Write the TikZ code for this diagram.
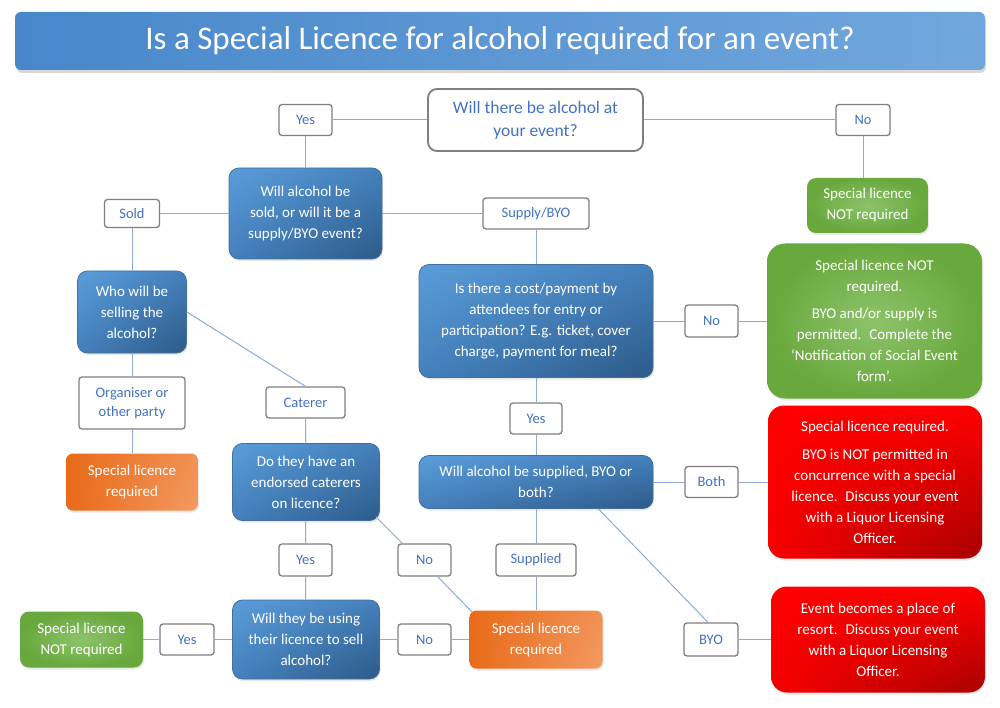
\documentclass[tikz,border=0pt]{standalone}
\usepackage{fontspec}
\setmainfont{Carlito}
\usetikzlibrary{shadings,shadows}
\usepackage{xcolor}
\definecolor{headblue}{HTML}{4787CB}
\definecolor{headbluel}{HTML}{72A7DD}
\definecolor{qbluea}{HTML}{5A9DDA}
\definecolor{qbluem}{HTML}{4480BC}
\definecolor{qblueb}{HTML}{2D5A88}
\definecolor{qedge}{HTML}{41719C}
\definecolor{labtext}{HTML}{4472C4}
\definecolor{labedge}{HTML}{7F7F7F}
\definecolor{wire}{HTML}{8EAADB}
\definecolor{okgreen}{HTML}{68A83C}
\definecolor{okgreenl}{HTML}{8DC36B}
\definecolor{reqorange}{HTML}{E96B19}
\definecolor{reqorangel}{HTML}{F39A62}
\definecolor{stopred}{HTML}{FF0000}
\definecolor{stopredb}{HTML}{A80000}

\tikzset{
	boxfont/.style={font=\fontsize{15}{21}\selectfont},
	question/.style={boxfont, rounded corners=10pt, draw=qedge, line width=0.8pt, upper left=qbluea, upper right=qbluem, lower left=qbluem, lower right=qblueb, text=white, align=center, inner sep=0pt, drop shadow={opacity=0.18, shadow xshift=1pt, shadow yshift=-2pt}},
	notreq/.style={boxfont, rounded corners=9pt, inner color=okgreenl, outer color=okgreen, text=white, align=center, inner sep=0pt, drop shadow={opacity=0.18, shadow xshift=1pt, shadow yshift=-2pt}},
	req/.style={boxfont, rounded corners=7pt, upper left=reqorange, lower left=reqorange, upper right=reqorangel!80!reqorange, lower right=reqorangel, text=white, align=center, inner sep=0pt, drop shadow={opacity=0.18, shadow xshift=1pt, shadow yshift=-2pt}},
	stop/.style={boxfont, rounded corners=16pt, upper left=stopred, upper right=stopred, lower left=stopred!90!stopredb, lower right=stopredb, text=white, align=center, inner sep=0pt, drop shadow={opacity=0.18, shadow xshift=1pt, shadow yshift=-2pt}},
	answer/.style={font=\fontsize{14.5}{18.5}\selectfont, rounded corners=3pt, draw=labedge, line width=1.3pt, fill=white, text=labtext, align=center, inner sep=0pt, minimum height=31pt},
	wire/.style={draw=wire, line width=1pt}
}

\begin{document}
\begin{tikzpicture}[x=1pt,y=-1pt]
	\useasboundingbox[fill=white] (0,0) rectangle (1000,708);
	% heading
	\node[rounded corners=6pt, left color=headblue, right color=headbluel, text=white, minimum width=970pt, minimum height=58pt, inner sep=0pt, font=\fontsize{33}{38}\selectfont, drop shadow={opacity=0.3, shadow xshift=1pt, shadow yshift=-3pt}] (head) at (500,41) {Is a Special Licence for alcohol required for an event?};
	%
	\node[rounded corners=9pt, draw=labedge, line width=1.8pt, fill=white, text=labtext, align=center, inner sep=0pt, minimum width=215pt, minimum height=62pt, font=\fontsize{17.5}{23}\selectfont] (alcohol) at (535.5,120) {Will there be alcohol at\\your event?};
	\node[answer, minimum width=53pt] (yesa) at (305.5,120) {Yes};
	\node[answer, minimum width=54pt] (noa) at (863,120) {No};
	\node[notreq, minimum width=121pt, minimum height=55pt] (notreqa) at (867.5,205.5) {Special licence\\NOT required};
	%
	\node[question, minimum width=153pt, minimum height=91pt] (soldq) at (305.5,213.5) {Will alcohol be\\sold, or will it be a\\supply/BYO event?};
	\node[answer, minimum width=55pt, minimum height=28pt] (sold) at (132,213.5) {Sold};
	\node[answer, minimum width=106pt] (supply) at (536,213.5) {Supply/BYO};
	%
	\node[question, minimum width=109pt, minimum height=82pt] (whoq) at (132,312) {Who will be\\selling the\\alcohol?};
	\node[answer, minimum width=106pt, minimum height=52pt] (organiser) at (132,403) {Organiser or\\other party};
	\node[req, minimum width=132pt, minimum height=57pt] (reqa) at (132,482) {Special licence\\required};
	\node[answer, minimum width=79pt] (caterer) at (305.5,402.5) {Caterer};
	\node[question, minimum width=147pt, minimum height=77pt] (endorsedq) at (306,482) {Do they have an\\endorsed caterers\\on licence?};
	\node[answer, minimum width=53pt, minimum height=32pt] (yesb) at (305.5,560) {Yes};
	\node[answer, minimum width=53pt, minimum height=32pt] (nob) at (424.5,560) {No};
	\node[question, minimum width=147pt, minimum height=79pt] (usingq) at (306,639.5) {Will they be using\\their licence to sell\\alcohol?};
	\node[answer, minimum width=53pt] (noc) at (424.5,639.5) {No};
	\node[answer, minimum width=54pt] (yesc) at (187,639.5) {Yes};
	\node[notreq, minimum width=123pt, minimum height=56pt] (notreqb) at (81.5,639.5) {Special licence\\NOT required};
	\node[req, minimum width=133pt, minimum height=58pt] (reqb) at (536,639.5) {Special licence\\required};
	%
	\node[question, minimum width=234pt, minimum height=113pt] (costq) at (536,321) {Is there a cost/payment by\\attendees for entry or\\participation? E.g. ticket, cover\\charge, payment for meal?};
	\node[answer, minimum width=53pt, minimum height=32pt] (nod) at (711.5,321) {No};
	\node[notreq, rounded corners=18pt, minimum width=215pt, minimum height=155pt] (permitted) at (874.5,321) {Special licence NOT\\required.\\[6pt]BYO and/or supply is\\permitted.~ Complete the\\‘Notification of Social Event\\form’.};
	\node[answer, minimum width=52pt] (yesd) at (536,418.5) {Yes};
	\node[question, minimum width=234pt, minimum height=53pt] (kindq) at (536,482) {Will alcohol be supplied, BYO or\\both?};
	\node[answer, minimum width=53pt] (both) at (711.5,482) {Both};
	\node[stop, minimum width=214pt, minimum height=153pt] (notpermitted) at (875,482) {Special licence required.\\[7pt]BYO is NOT permitted in\\concurrence with a special\\licence.~ Discuss your event\\with a Liquor Licensing\\Officer.};
	\node[answer, minimum width=80pt, minimum height=32pt] (supplied) at (536,560) {Supplied};
	\node[answer, minimum width=54pt, minimum height=33pt] (byo) at (711,639.5) {BYO};
	\node[stop, minimum width=214pt, minimum height=106pt] (resort) at (878,639.5) {Event becomes a place of\\resort.~ Discuss your event\\with a Liquor Licensing\\Officer.};
	%
	\draw[wire] (alcohol) -- (yesa);
	\draw[wire] (alcohol) -- (noa);
	\draw[wire] (yesa) -- (soldq);
	\draw[wire] (noa) -- (noa |- notreqa.north);
	\draw[wire] (soldq) -- (sold);
	\draw[wire] (soldq) -- (supply);
	\draw[wire] (sold) -- (whoq);
	\draw[wire] (whoq) -- (organiser);
	\draw[wire] (organiser) -- (reqa);
	\draw[wire] (whoq.east) -- (caterer.north);
	\draw[wire] (caterer) -- (endorsedq);
	\draw[wire] (endorsedq) -- (yesb);
	\draw[wire] (yesb) -- (usingq);
	\draw[wire] ([xshift=-4pt,yshift=4pt]endorsedq.south east) -- ([xshift=5pt]nob.north west);
	\draw[wire] ([xshift=-14pt]nob.south east) -- ([xshift=3pt,yshift=-2pt]reqb.north west);
	\draw[wire] (usingq) -- (noc);
	\draw[wire] (noc) -- (reqb);
	\draw[wire] (usingq) -- (yesc);
	\draw[wire] (yesc) -- (notreqb);
	\draw[wire] (supply) -- (costq);
	\draw[wire] (costq) -- (nod);
	\draw[wire] (nod) -- (permitted);
	\draw[wire] (costq) -- (yesd);
	\draw[wire] (yesd) -- (kindq);
	\draw[wire] (kindq) -- (both);
	\draw[wire] (both) -- (notpermitted);
	\draw[wire] (kindq) -- (supplied);
	\draw[wire] (supplied) -- (reqb);
	\draw[wire] ([xshift=-55pt]kindq.south east) -- ([xshift=-3pt]byo.north);
	\draw[wire] (byo) -- (resort);
\end{tikzpicture}
\end{document}
